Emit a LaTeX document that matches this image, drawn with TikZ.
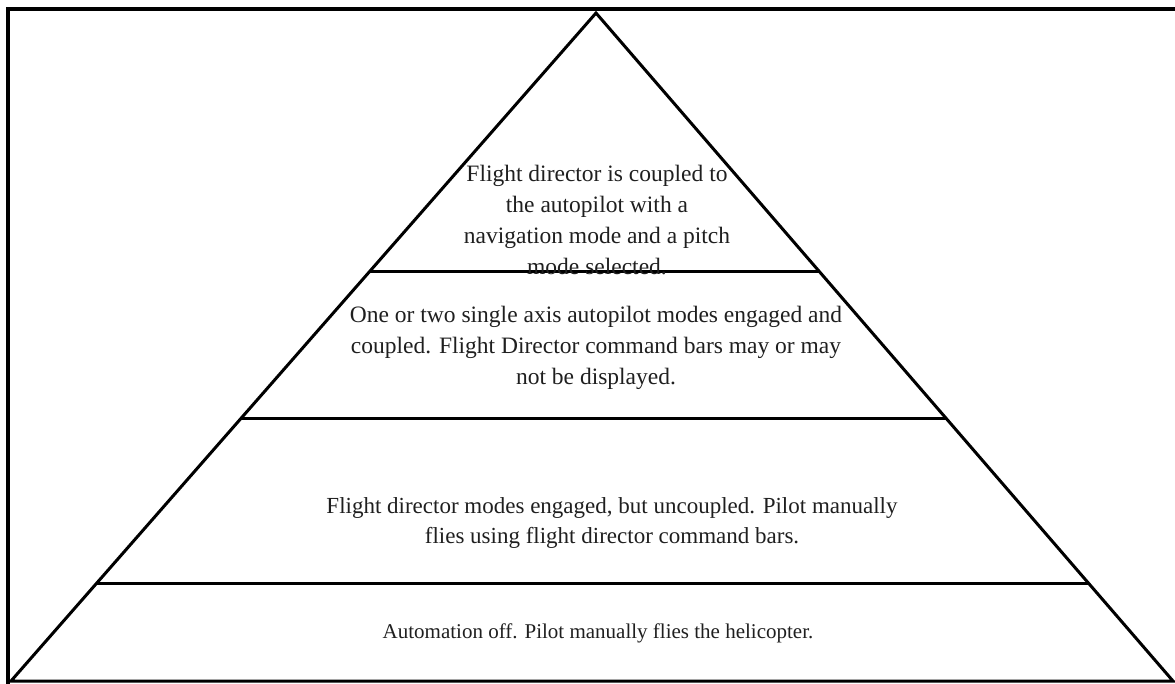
\documentclass[tikz,border=0pt]{standalone}
\usepackage{fontspec}
\setmainfont{Liberation Serif}
\usetikzlibrary{calc}
\begin{document}
\begin{tikzpicture}[x=1pt,y=-1pt,
  frame/.style={line width=4pt},
  pyr/.style={line width=3pt,line join=miter},
  tier/.style={line width=3pt},
  label/.style={align=center,font=\fontsize{23.5}{31}\selectfont,text=black!88,inner sep=0pt},
  mid/.style={label,font=\fontsize{23}{30}\selectfont},
  small/.style={label,font=\fontsize{21}{30}\selectfont}]
\useasboundingbox (0,0) rectangle (1175,683);
% frame (top and left)
\draw[frame] (8,700) -- (8,9) -- (1180,9);
% pyramid
\coordinate (apex) at (596,13);
\coordinate (bl) at (11,681);
\coordinate (br) at (1173,681);
\draw[pyr] (bl) -- (apex) -- (br) -- cycle;
% tier lines
\draw[tier] ($(apex)!0.8533!(bl)$) -- ($(apex)!0.8533!(br)$);
\draw[tier] ($(apex)!0.6063!(bl)$) -- ($(apex)!0.6063!(br)$);
\draw[tier] ($(apex)!0.3877!(bl)$) -- ($(apex)!0.3877!(br)$);
% labels
\node[label] (t1) at (597,220) {Flight director is coupled to\\the autopilot with a\\navigation mode and a pitch\\mode selected.};
\node[label] (t2) at (596,348) {One or two single axis autopilot modes engaged and\\coupled. Flight Director command bars may or may\\not be displayed.};
\node[mid] (t3) at (612,523) {Flight director modes engaged, but uncoupled. Pilot manually\\flies using flight director command bars.};
\node[small] (t4) at (598,633) {Automation off. Pilot manually flies the helicopter.};
\end{tikzpicture}
\end{document}
